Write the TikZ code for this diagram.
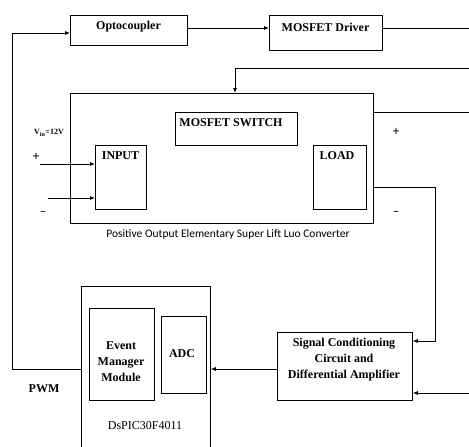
\documentclass[tikz,border=0pt]{standalone}
\usepackage{fontspec}
\setmainfont{Liberation Serif}
\newfontfamily\capfont{Carlito}
\usetikzlibrary{arrows.meta}
\begin{document}
\begin{tikzpicture}[x=1pt,y=-1pt,
  box/.style={draw, line width=0.8pt, inner sep=0pt, anchor=north west},
  lbl/.style={font=\bfseries\fontsize{12}{16}\selectfont, inner sep=0pt, align=center},
  sgn/.style={font=\capfont\fontsize{13}{14}\selectfont, inner sep=0pt},
  wire/.style={line width=0.8pt},
  arr/.style={wire, -{Latex[length=5pt,width=4pt]}}]
\clip (0,0) rectangle (469,447);
% boxes
\node[box, minimum width=117pt, minimum height=30pt] (opto) at (70,15) {};
\node[box, minimum width=113pt, minimum height=35pt] (driver) at (269,15) {};
\node[box, minimum width=303pt, minimum height=130pt] (main) at (70,93) {};
\node[box, minimum width=122pt, minimum height=33pt] (switch) at (175,112) {};
\node[box, minimum width=51pt, minimum height=64pt] (input) at (95,145) {};
\node[box, minimum width=53pt, minimum height=64pt] (load) at (313,145) {};
\node[box, minimum width=129pt, minimum height=175pt] (dsp) at (81,286) {};
\node[box, minimum width=65pt, minimum height=92pt] (evm) at (89,308) {};
\node[box, minimum width=45pt, minimum height=77pt] (adc) at (161,316) {};
\node[box, minimum width=135pt, minimum height=68pt] (sc) at (277,332) {};
% texts
\node[lbl] (optot) at (128.5,27) {Optocoupler};
\node[lbl] (drivert) at (325.5,27) {MOSFET Driver};
\node[lbl] (switcht) at (231,123) {MOSFET SWITCH};
\node[lbl] (inputt) at (120.5,156) {INPUT};
\node[lbl] (loadt) at (337,156) {LOAD};
\node[lbl] (evmt) at (121,362) {Event\\Manager\\Module};
\node[lbl] (adct) at (182,354) {ADC};
\node[lbl] (sct) at (344,359.5) {Signal Conditioning\\Circuit and\\Differential Amplifier};
\node[font=\fontsize{12}{14}\selectfont, inner sep=0pt] (dspt) at (145,426) {DsPIC30F4011};
\node[lbl] (pwm) at (44,389) {PWM};
\node[font=\bfseries\fontsize{8}{9}\selectfont, inner sep=0pt] (vin) at (49,133) {V\textsubscript{in}=12V};
\node[font=\capfont\fontsize{11.5}{13}\selectfont, inner sep=0pt] (cap) at (228,234) {Positive Output Elementary Super Lift Luo Converter};
\node[sgn] (pin) at (36,157) {+};
\node[sgn] (nin) at (43,213) {\textendash};
\node[sgn] (pout) at (396,132) {+};
\node[sgn] (nout) at (396,213) {\textendash};
% edge coordinates
\coordinate (e1) at (469,28);
\coordinate (e2) at (469,68);
\coordinate (e3) at (469,112);
\coordinate (e4) at (469,393);
\coordinate (c1) at (12,369);
\coordinate (c2) at (435,187);
\coordinate (s1) at (40,164);
\coordinate (s2) at (48,198);
% connectors
\draw[arr] (opto.east |- e1) -- (driver.west |- e1);
\draw[wire] (driver.east |- e1) -- (e1);
\draw[arr] (e2) -| (main.north -| 235,0);
\draw[wire] (main.east |- e3) -- (e3);
\draw[arr] (main.east |- c2) -- (c2) |- (sc.east |- 0,341);
\draw[arr] (e4) -- (sc.east |- e4);
\draw[arr] (sc.west |- c1) -- (dsp.east |- c1);
\draw[arr] (dsp.west |- c1) -- (c1) |- (opto.west |- 0,33);
\draw[arr] (s1) -- (input.west |- s1);
\draw[arr] (s2) -- (input.west |- s2);
\end{tikzpicture}
\end{document}
